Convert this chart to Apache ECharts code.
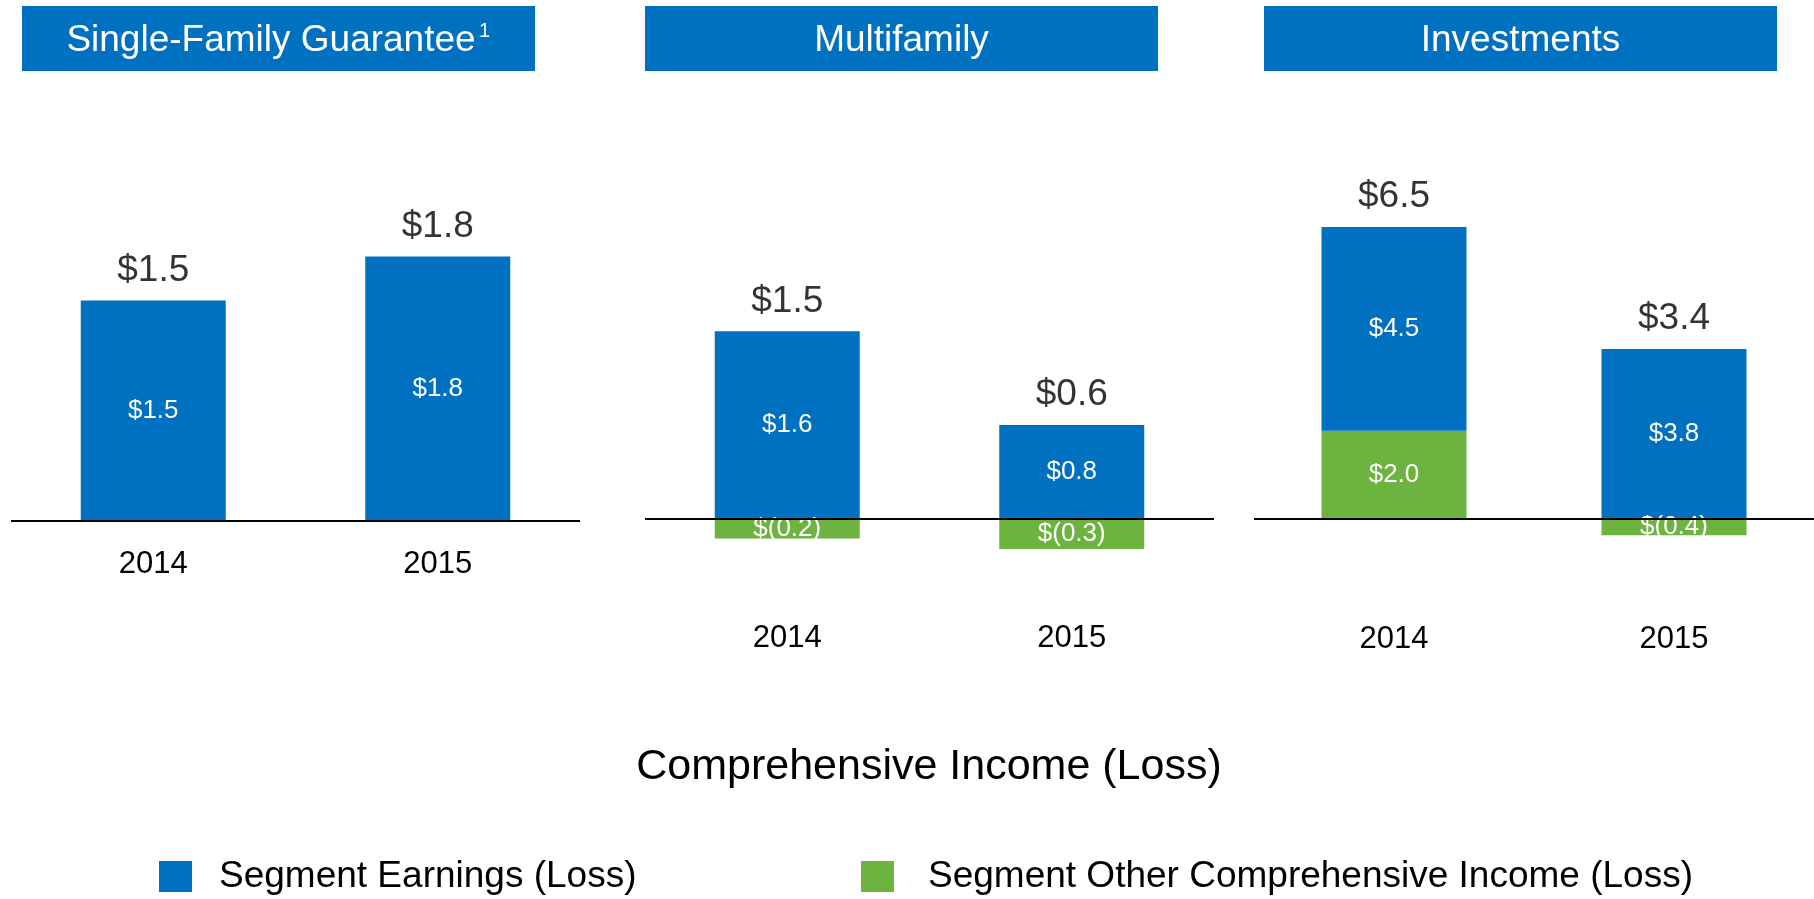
<html>
    <head>
        <title>Comprehensive Income (Loss)</title>
        <meta charset="UTF-8">
        <script src="https://cdn.jsdelivr.net/npm/echarts@6/dist/echarts.min.js"></script>
        <style>
            html, body { margin: 0; padding: 0; background: #fff; }
        </style>
    </head>

    <body>
        <div id="main" style="width: 1814px;height: 899px;"></div>
    </body>

<script>

// data ($ billions)
var years = ['2014', '2015'];
var segments = ['Single-Family Guarantee', 'Multifamily', 'Investments'];
var earnings = [[1.5, 1.8], [1.6, 0.8], [4.53, 3.78]];
var oci = [[null, null], [-0.17, -0.26], [1.96, -0.36]];
var totals = [[1.5, 1.8], [1.5, 0.6], [6.5, 3.4]];

var BLUE = '#0070C0';
var GREEN = '#6DB33F';
var FONT = '"Liberation Sans", Arial, sans-serif';

// layout of each panel: left edge, y of zero line, px per $1bn, axis range, label margin
var panels = [
    {left: 11,   zero: 521,   scale: 147, min: 0,    max: 2, margin: 28},
    {left: 645,  zero: 518.5, scale: 117, min: -0.7, max: 2, margin: 23},
    {left: 1254, zero: 519,   scale: 45,  min: -1.8, max: 7, margin: 24}
];
var headers = [22, 645, 1264];

function money(v) {
    if (v == null) return '';
    if (v < 0) return '$(' + (-v).toFixed(1) + ')';
    return '$' + v.toFixed(1);
}

var myChart = echarts.init(document.getElementById('main'));

var grids = [], xAxes = [], yAxes = [], series = [], graphics = [];

panels.forEach(function (p, i) {
    grids.push({
        left: p.left,
        width: 569,
        top: p.zero - p.max * p.scale,
        height: (p.max - p.min) * p.scale
    });
    xAxes.push({
        type: 'category',
        gridIndex: i,
        data: years,
        axisLine: {show: false},
        axisTick: {show: false},
        axisLabel: {fontSize: 31, color: '#000', fontFamily: FONT, margin: p.margin}
    });
    yAxes.push({
        type: 'value',
        gridIndex: i,
        min: p.min,
        max: p.max,
        show: false,
        splitLine: {show: false}
    });

    var inside = {
        show: true,
        position: 'inside',
        color: '#fff',
        fontSize: 26,
        fontFamily: FONT,
        formatter: function (d) { return money(d.value); }
    };

    series.push({
        name: 'Segment Other Comprehensive Income (Loss)',
        type: 'bar',
        stack: 'p' + i,
        xAxisIndex: i,
        yAxisIndex: i,
        barWidth: 145,
        itemStyle: {color: GREEN},
        label: inside,
        data: oci[i]
    });
    series.push({
        name: 'Segment Earnings (Loss)',
        type: 'bar',
        stack: 'p' + i,
        xAxisIndex: i,
        yAxisIndex: i,
        barWidth: 145,
        itemStyle: {color: BLUE},
        label: inside,
        data: earnings[i],
        markLine: {
            silent: true,
            symbol: ['none', 'none'],
            label: {show: false},
            lineStyle: {color: '#000', width: 2, type: 'solid'},
            data: [{yAxis: 0}]
        }
    });

    // total on top of the positive stack
    var tops = years.map(function (y, j) {
        return earnings[i][j] + Math.max(oci[i][j] || 0, 0);
    });
    series.push({
        name: 'Total',
        type: 'scatter',
        xAxisIndex: i,
        yAxisIndex: i,
        symbolSize: 1,
        itemStyle: {color: 'rgba(0,0,0,0)'},
        label: {
            show: true,
            position: 'top',
            distance: 11,
            color: '#000',
            fontSize: 37,
            fontFamily: FONT,
            formatter: function (d) { return money(totals[i][d.dataIndex]); }
        },
        data: tops
    });

    // blue header box
    graphics.push({
        type: 'rect',
        shape: {x: headers[i], y: 6, width: 513, height: 65},
        style: {fill: BLUE}
    });
    graphics.push({
        type: 'text',
        x: i == 0 ? 271 : headers[i] + 256.5,
        y: 41,
        style: {
            text: segments[i],
            fill: '#fff',
            font: '37px ' + FONT,
            textAlign: 'center',
            textVerticalAlign: 'middle'
        }
    });
});

// footnote marker on the first header
graphics.push({
    type: 'text',
    x: 479,
    y: 21,
    style: {text: '1', fill: '#fff', font: '20px ' + FONT}
});

graphics.push({
    type: 'text',
    x: 929,
    y: 767,
    style: {
        text: 'Comprehensive Income (Loss)',
        fill: '#000',
        font: '43px ' + FONT,
        textAlign: 'center',
        textVerticalAlign: 'middle'
    }
});

var legendBase = {
    top: 853,
    icon: 'rect',
    itemWidth: 33,
    itemHeight: 31,
    selectedMode: false
};

var option = {
    animation: false,
    backgroundColor: '#fff',
    grid: grids,
    xAxis: xAxes,
    yAxis: yAxes,
    legend: [
        Object.assign({
            left: 154,
            data: ['Segment Earnings (Loss)'],
            textStyle: {fontSize: 37, color: '#000', fontFamily: FONT, padding: [0, 0, 0, 22]}
        }, legendBase),
        Object.assign({
            left: 856,
            data: ['Segment Other Comprehensive Income (Loss)'],
            textStyle: {fontSize: 37, color: '#000', fontFamily: FONT, padding: [0, 0, 0, 29]}
        }, legendBase)
    ],
    graphic: graphics,
    series: series
};

myChart.setOption(option);

</script>

</html>
